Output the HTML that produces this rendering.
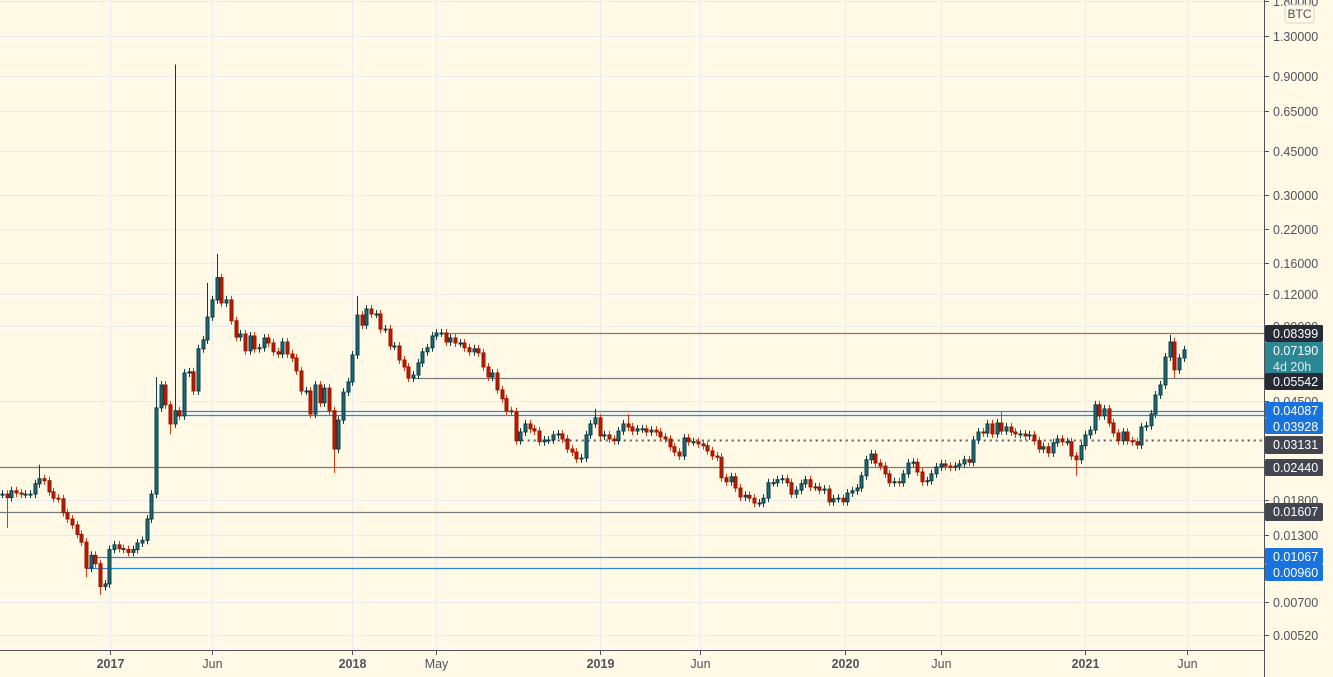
<!DOCTYPE html>
<html><head><meta charset="utf-8">
<style>
html,body{margin:0;padding:0;background:#fff9e6;}
svg{display:block;font-family:"Liberation Sans",sans-serif;}
</style></head>
<body>
<svg id="chart" width="1333" height="677" xmlns="http://www.w3.org/2000/svg">
<rect x="0" y="0" width="1333" height="677" fill="#fff9e6"/>
<g id="grid"></g>
<g id="hlines"></g>
<g id="candles"></g>
<line x1="1264.5" y1="0" x2="1264.5" y2="677" stroke="#50535e" stroke-width="1"/>
<line x1="0" y1="650.5" x2="1264" y2="650.5" stroke="#50535e" stroke-width="1"/>
<g id="yaxis"></g>
<g id="xaxis"></g>
<g id="labels"></g>
<g>
<rect x="1285" y="5" width="29" height="18" rx="3" fill="#fff9e6" stroke="#d6d6d6"/>
<text x="1299.5" y="18" font-size="12" fill="#50535e" text-anchor="middle">BTC</text>
</g>
</svg>
<script>
const closes=[.0190,.0184,.0196,.0192,.0190,.0190,.0190,.0209,.0219,.0215,
.0194,.0183,.0182,.0160,.0151,.0143,.0131,.0122,.0096,.0108,
.0100,.0081,.0083,.0114,.0119,.0115,.0114,.0111,.0114,.0121,
.0124,.0151,.0190,.0421,.0520,.0433,.0363,.0410,.0391,.0581,
.0587,.0492,.0726,.0788,.0973,.1140,.140,.1108,.1140,.0940,
.0809,.0832,.0713,.0817,.0726,.0733,.0802,.0766,.0706,.0692,
.0773,.0692,.0667,.0592,.0492,.0492,.0398,.0520,.0441,.0505,
.0410,.0288,.0376,.0487,.0535,.0686,.0991,.0903,.1048,.1001,
.1001,.0871,.0871,.0745,.0745,.0655,.0614,.0554,.0570,.0637,
.0706,.0733,.0817,.0840,.0840,.0773,.0802,.0766,.0766,.0733,
.0706,.0726,.0699,.0614,.0560,.0581,.0497,.0458,.0410,.0406,
.0311,.0337,.0363,.0347,.0340,.0308,.0313,.0313,.0328,.0331,
.0316,.0288,.0280,.0263,.0265,.0328,.0363,.0384,.0325,.0328,
.0316,.0311,.0340,.0363,.0353,.0340,.0347,.0347,.0337,.0343,
.0337,.0322,.0316,.0294,.0280,.0270,.0319,.0308,.0308,.0302,
.0297,.0283,.0270,.0267,.0221,.0213,.0223,.0201,.0185,.0188,
.0183,.0175,.0175,.0183,.0211,.0211,.0217,.0219,.0211,.0190,
.0197,.0209,.0217,.0203,.0203,.0197,.0199,.0177,.0182,.0183,
.0177,.0192,.0196,.0201,.0225,.0261,.0275,.0253,.0246,.0229,
.0211,.0213,.0211,.0229,.0253,.0255,.0233,.0213,.0215,.0229,
.0244,.0251,.0246,.0244,.0246,.0251,.0261,.0255,.0313,.0337,
.0334,.0363,.0331,.0366,.0340,.0353,.0337,.0331,.0331,.0325,
.0328,.0311,.0288,.0294,.0278,.0305,.0316,.0308,.0308,.0270,
.0261,.0297,.0328,.0343,.0433,.0391,.0417,.0366,.0334,.0311,
.0337,.0311,.0308,.0299,.0353,.0357,.0398,.0474,.0520,.0673,
.0773,.0598,.0667,.0719];
const firstOpen=.0190;
const highIdx=[8,37,46,127,134,214,250,44,76,33];
const highVal=[.0249,1.00,.174,.0417,.0398,.0406,.0826,.1332,.118,.0560];
const lowIdx=[1,21,71,230,251,36,18];
const lowVal=[.0139,.0075,.0231,.0225,.0554,.0330,.0088];
const yTicks=[1.8,1.3,0.9,0.65,0.45,0.3,0.22,0.16,0.12,0.09,0.045,0.018,0.013,0.007,0.0052];
const timeLabels=["2017","Jun","2018","May","2019","Jun","2020","Jun","2021","Jun"];
const timeWeeks=[23.1,45,75,93,128,149.5,180.5,201,232,253.7];
const timeBold=[1,0,1,0,1,0,1,0,1,0];
const levelVals=[0.08399,0.05542,0.04087,0.03928,0.03131,0.02440,0.01607,0.01067,0.00960];
const levelStartWeek=[94,88,38,38,110,-1,-1,19,18];
const levelKind=["gray","gray","blue","blue","dot","gray","gray","blue","blue"];

const NS="http://www.w3.org/2000/svg";
function Y(p){return 333-108.4*Math.log(p/0.08399);}
function X(i){return 2+4.67*i;}
function mk(t,a,parent){const e=document.createElementNS(NS,t);for(const k in a)e.setAttribute(k,a[k]);parent.appendChild(e);return e;}
const grid=document.getElementById('grid'),hl=document.getElementById('hlines'),cg=document.getElementById('candles'),ya=document.getElementById('yaxis'),xa=document.getElementById('xaxis'),lb=document.getElementById('labels');

yTicks.forEach(t=>{
  const y=Math.round(Y(t))+0.5;
  const g=mk('line',{x1:0,x2:1264,y1:y,y2:y,stroke:'#e6ecef','stroke-width':1},grid);
  
  
  const tk=mk('line',{x1:1264,x2:1269,y1:y,y2:y,stroke:'#50535e'},ya);
  
  
  const tx=mk('text',{x:1273,y:y+4.5,'font-size':12.5,fill:'#50535e'},ya);
  tx.textContent=t.toFixed(5);
  
  
});
timeLabels.forEach((l,k)=>{
  const x=Math.round(X(timeWeeks[k]))+0.5;
  const g=mk('line',{x1:x,x2:x,y1:0,y2:650,stroke:'#e6ecef'},grid);
  
  
  const tk=mk('line',{x1:x,x2:x,y1:650,y2:655,stroke:'#50535e'},xa);
  
  
  const t=mk('text',{x:x,y:668,'font-size':12.5,fill:'#50535e','text-anchor':'middle','font-weight':timeBold[k]?'bold':'normal'},xa);
  t.textContent=l;
  
  
});
levelVals.forEach((v,k)=>{
  const y=Math.round(Y(v))+0.5;
  const kind=levelKind[k];
  const a={x1:Math.max(0,X(levelStartWeek[k])),x2:1264,y1:y,y2:y,stroke:kind==='blue'?'#2a86e0':'#7b7b7b','stroke-width':kind==='dot'?2:1.2};
  if(kind==='dot'){a['stroke-dasharray']='2,4';a.stroke='#5d5d5d';}
  const l=mk('line',a,hl);
  
  
});
let prev=firstOpen;
closes.forEach((c,i)=>{
  const o=prev;prev=c;
  const up=c>=o;
  let hi=Math.max(o,c),lo=Math.min(o,c);
  const hk=highIdx.indexOf(i),lk=lowIdx.indexOf(i);
  const yTop=hk>=0?Y(highVal[hk]):Y(hi)-4;
  const yBot=lk>=0?Y(lowVal[lk]):Y(lo)+4;
  const x=Math.round(X(i))+0.5;
  const g=mk('g',{},cg);
  
  
  mk('line',{x1:x,x2:x,y1:yTop,y2:yBot,stroke:up?'#0d3c45':'#e0350f','stroke-width':1},g);
  const y1=Y(hi),y2=Y(lo);
  mk('rect',{x:x-1.5,y:y1,width:3,height:Math.max(1,y2-y1),fill:up?'#1b6a78':'#c41600',stroke:up?'#0d3c45':'#8d1a00','stroke-width':1},g);
});
function lab(v,bg,y,h,text2){
  const g=mk('g',{},lb);
  
  
  mk('rect',{x:1265,y:y,width:58,height:h,fill:bg,rx:1.5},g);
  const t=mk('text',{x:1273,y:y+13,'font-size':12.5,fill:'#fff'},g);t.textContent=v;
  if(text2){const t2=mk('text',{x:1273,y:y+29,'font-size':12.5,fill:'#d8efef'},g);t2.textContent=text2;}
}
lab('0.08399','#262a35',325,17);
lab('0.07190','#2b8794',342,32,'4d 20h');
lab('0.05542','#262a35',373,17);
lab('0.04087','#1874dc',402,16);
lab('0.03928','#1874dc',418,16);
lab('0.03131','#434651',436,18);
lab('0.02440','#434651',459,17);
lab('0.01607','#434651',503,18);
lab('0.01067','#1874dc',548,16);
lab('0.00960','#1874dc',564,17);
</script>
</body></html>
